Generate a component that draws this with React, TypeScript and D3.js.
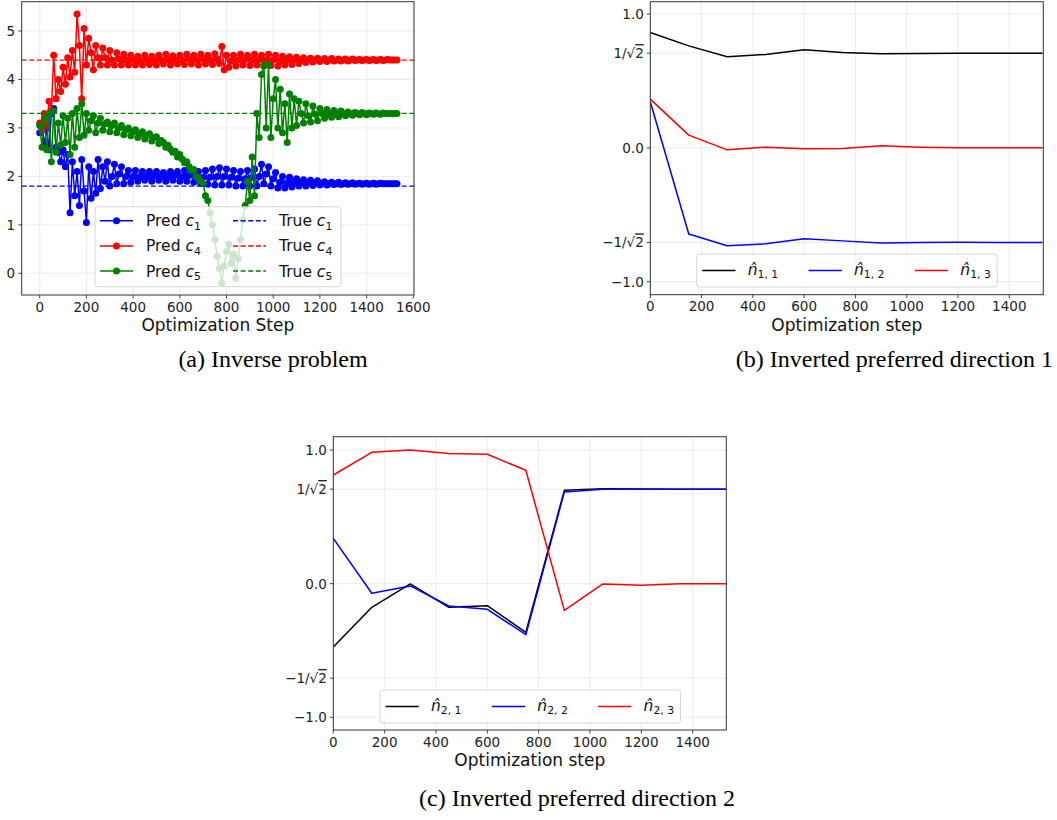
import { useEffect, useRef } from 'react';
import * as d3 from 'd3';

const predSteps = d3.range(0, 1531, 10);
const predC1 = [
  2.9, 3.05, 2.65, 3.0, 2.55, 3.3, 3.4, 2.6, 2.5, 2.3,
  2.55, 2.2, 2.45, 1.25, 2.3, 1.6, 2.1, 1.4, 2.35, 1.7,
  1.05, 2.2, 1.55, 2.1, 1.65, 2.35, 1.75, 2.2, 1.9, 2.3,
  1.8, 2.0, 2.25, 1.85, 2.05, 2.2, 1.85, 2.0, 2.12, 1.88,
  2.0, 2.12, 1.9, 2.0, 2.1, 1.92, 2.0, 2.1, 1.9, 2.02,
  2.1, 1.92, 2.0, 2.08, 1.9, 2.0, 2.1, 1.92, 2.02, 2.1,
  1.9, 2.0, 2.12, 1.9, 2.02, 2.1, 1.88, 2.0, 2.1, 1.86,
  1.98, 2.12, 1.84, 1.98, 2.15, 1.82, 2.0, 2.18, 1.82, 2.0,
  2.15, 1.82, 1.98, 2.12, 1.8, 1.96, 2.1, 1.8, 1.95, 2.12,
  1.8, 1.98, 2.15, 1.8, 2.0, 2.25, 1.85, 2.05, 2.2, 1.8,
  1.95, 2.08, 1.76, 1.88, 2.0, 1.76, 1.87, 1.98, 1.78, 1.88,
  1.95, 1.8, 1.87, 1.93, 1.8, 1.86, 1.92, 1.81, 1.86, 1.91,
  1.82, 1.86, 1.89, 1.82, 1.85, 1.88, 1.83, 1.85, 1.88, 1.83,
  1.85, 1.87, 1.84, 1.85, 1.87, 1.84, 1.85, 1.86, 1.84, 1.85,
  1.86, 1.84, 1.85, 1.86, 1.84, 1.85, 1.86, 1.85, 1.85, 1.85,
  1.85, 1.85, 1.85, 1.85,
];
const predC4 = [
  3.1, 2.95, 3.3, 3.05, 3.55, 3.35, 4.5, 3.6, 4.0, 3.75,
  4.25, 3.9, 4.45, 4.05, 4.6, 4.15, 5.35, 4.7, 3.6, 5.05,
  4.3, 4.85, 4.55, 4.2, 4.7, 4.45, 4.3, 4.65, 4.45, 4.3,
  4.6, 4.4, 4.3, 4.55, 4.42, 4.3, 4.52, 4.4, 4.3, 4.5,
  4.4, 4.3, 4.48, 4.38, 4.3, 4.5, 4.4, 4.31, 4.48, 4.39,
  4.3, 4.5, 4.4, 4.32, 4.52, 4.41, 4.3, 4.49, 4.4, 4.32,
  4.5, 4.4, 4.31, 4.52, 4.42, 4.32, 4.5, 4.41, 4.3, 4.52,
  4.42, 4.32, 4.5, 4.4, 4.31, 4.53, 4.42, 4.33, 4.68, 4.2,
  4.5, 4.25, 4.38, 4.5, 4.28, 4.4, 4.52, 4.3, 4.41, 4.5,
  4.29, 4.4, 4.52, 4.3, 4.41, 4.5, 4.28, 4.4, 4.52, 4.29,
  4.4, 4.5, 4.28, 4.39, 4.48, 4.3, 4.4, 4.47, 4.31, 4.4,
  4.46, 4.33, 4.4, 4.45, 4.35, 4.4, 4.44, 4.36, 4.4, 4.44,
  4.37, 4.4, 4.43, 4.37, 4.4, 4.43, 4.38, 4.4, 4.42, 4.38,
  4.4, 4.42, 4.38, 4.4, 4.42, 4.39, 4.4, 4.41, 4.39, 4.4,
  4.41, 4.39, 4.4, 4.41, 4.39, 4.4, 4.41, 4.39, 4.4, 4.41,
  4.4, 4.4, 4.4, 4.4,
];
const predC5 = [
  3.05, 2.6, 3.2, 2.55, 3.3, 2.3, 3.35, 2.5, 3.1, 2.65,
  3.25, 2.7, 3.2, 2.45, 3.3, 2.6, 3.4, 2.8, 3.5, 2.85,
  3.3, 2.95, 3.15, 3.25, 2.9, 3.1, 3.2, 2.95, 3.08, 3.12,
  2.92, 3.05, 3.1, 2.9, 3.0, 3.05, 2.86, 2.96, 3.0, 2.84,
  2.92, 2.96, 2.8, 2.88, 2.92, 2.77, 2.85, 2.88, 2.73, 2.8,
  2.82, 2.68, 2.74, 2.7, 2.6, 2.64, 2.56, 2.5, 2.52, 2.4,
  2.45, 2.36, 2.28, 2.3, 2.2, 2.12, 2.14, 2.0, 1.95, 1.9,
  1.85, 1.6, 1.5, 1.25, 1.0, 0.7, 0.35, 0.1, -0.2, 0.15,
  0.45, 0.6, 0.2, 0.4, -0.1, 0.3, 0.7, 1.1, 1.4, 1.9,
  1.5, 2.4, 1.6, 3.3, 2.8, 4.1, 4.3, 3.0, 4.3, 2.8,
  3.6, 4.0, 3.0, 3.8, 2.9, 3.5, 2.7, 3.7, 3.0, 3.6,
  3.05, 3.55, 3.3, 3.1, 3.5, 3.25, 3.12, 3.45, 3.28, 3.15,
  3.4, 3.3, 3.2, 3.38, 3.29, 3.22, 3.36, 3.3, 3.23, 3.35,
  3.29, 3.25, 3.33, 3.29, 3.26, 3.32, 3.3, 3.27, 3.32, 3.3,
  3.27, 3.31, 3.3, 3.28, 3.31, 3.29, 3.28, 3.31, 3.3, 3.29,
  3.3, 3.29, 3.3, 3.3,
];
const trueC1 = 1.8;
const trueC4 = 4.4;
const trueC5 = 3.3;

// (b), (c): direction components at the checkpoints
const dirSteps = [0, 150, 300, 450, 600, 750, 900, 1050, 1200, 1350, 1500, 1530];
const n11 = [0.862, 0.762, 0.68, 0.698, 0.733, 0.713, 0.703, 0.705, 0.707, 0.707, 0.707, 0.707];
const n12 = [0.344, -0.643, -0.732, -0.717, -0.68, -0.695, -0.71, -0.708, -0.706, -0.707, -0.707, -0.707];
const n13 = [0.364, 0.095, -0.015, 0.005, -0.007, -0.005, 0.015, 0.005, 0.0, 0.0, 0.0, 0.0];
const n21 = [-0.474, -0.177, -0.002, -0.177, -0.165, -0.364, 0.698, 0.711, 0.708, 0.707, 0.707, 0.707];
const n22 = [0.339, -0.072, -0.017, -0.167, -0.192, -0.382, 0.686, 0.706, 0.707, 0.707, 0.707, 0.707];
const n23 = [0.813, 0.983, 1.0, 0.973, 0.968, 0.848, -0.2, -0.002, -0.012, 0.0, 0.0, 0.0];

const xTicksA = [0, 200, 400, 600, 800, 1000, 1200, 1400, 1600];
const yTicksA = [0, 1, 2, 3, 4, 5];
const xTicksN = [0, 200, 400, 600, 800, 1000, 1200, 1400];
const yTicksN = [-1, -Math.SQRT1_2, 0, Math.SQRT1_2, 1];
const yLabelsN = ['\u22121.0', '\u22121/\u221a2', '0.0', '1/\u221a2', '1.0'];

const FONT = "'DejaVu Sans', sans-serif";
const SERIF = "'Liberation Serif', 'Times New Roman', serif";
const MARKER_R = 3.5;

// a label piece: [text, kind] with kind n = normal, i = italic, s = subscript
type Piece = [string, string];

const addMath = (sel: any, pieces: Piece[], fs: number) => {
  pieces.forEach(([t, k]) => {
    const ts = sel.append('tspan').text(t);
    if (k === 'i') ts.style('font-style', 'italic');
    if (k === 's') ts.attr('font-size', fs * 0.7).attr('dy', fs * 0.22);
  });
};

const addSqrtLabel = (sel: any, label: string) => {
  const i = label.indexOf('\u221a');
  if (i < 0) {
    sel.text(label);
    return;
  }
  sel.append('tspan').text(label.slice(0, i + 1));
  sel.append('tspan').style('text-decoration', 'overline').text(label.slice(i + 1));
};

const drawAxes = (svg: any, fr: any, x: any, y: any, xTicks: number[], yTicks: number[], yLabels: string[], xLabel: string, labelY: number) => {
  const g = svg.append('g');
  xTicks.forEach((t) => {
    g.append('line').attr('x1', x(t)).attr('x2', x(t)).attr('y1', fr.b).attr('y2', fr.b + 3.5)
      .attr('stroke', '#333').attr('stroke-width', 0.9);
    g.append('text').attr('x', x(t)).attr('y', fr.b + 16.5).attr('text-anchor', 'middle')
      .attr('font-family', FONT).attr('font-size', 13.5).attr('fill', '#222').text(t);
  });
  yTicks.forEach((t, i) => {
    g.append('line').attr('x1', fr.l - 3.5).attr('x2', fr.l).attr('y1', y(t)).attr('y2', y(t))
      .attr('stroke', '#333').attr('stroke-width', 0.9);
    const tx = g.append('text').attr('x', fr.l - 6.5).attr('y', y(t)).attr('dy', '0.36em')
      .attr('text-anchor', 'end').attr('font-family', FONT).attr('font-size', 13.5).attr('fill', '#222');
    addSqrtLabel(tx, yLabels[i]);
  });
  g.append('rect').attr('x', fr.l).attr('y', fr.t).attr('width', fr.r - fr.l).attr('height', fr.b - fr.t)
    .attr('fill', 'none').attr('stroke', '#333').attr('stroke-width', 1);
  g.append('text').attr('x', (fr.l + fr.r) / 2).attr('y', labelY).attr('text-anchor', 'middle')
    .attr('font-family', FONT).attr('font-size', 17).attr('fill', '#111').text(xLabel);
};

const drawGrid = (svg: any, fr: any, x: any, y: any, xTicks: number[], yTicks: number[]) => {
  const g = svg.append('g').attr('stroke', '#ebebeb').attr('stroke-width', 1);
  xTicks.forEach((t) => g.append('line').attr('x1', x(t)).attr('x2', x(t)).attr('y1', fr.t).attr('y2', fr.b));
  yTicks.forEach((t) => g.append('line').attr('x1', fr.l).attr('x2', fr.r).attr('y1', y(t)).attr('y2', y(t)));
};

const legendBox = (svg: any, x0: number, y0: number, w: number, h: number) =>
  svg.append('rect').attr('x', x0).attr('y', y0).attr('width', w).attr('height', h).attr('rx', 3)
    .attr('fill', '#fff').attr('fill-opacity', 0.8).attr('stroke', '#ccc').attr('stroke-opacity', 0.8);

const drawDirPanel = (svg: any, id: string, fr: any, x: any, y: any, series: number[][], names: Piece[][], labelY: number, legXY: [number, number]) => {
  const colors = ['#000000', '#0000ff', '#ff0000'];
  drawGrid(svg, fr, x, y, xTicksN, yTicksN);
  svg.append('clipPath').attr('id', id).append('rect')
    .attr('x', fr.l).attr('y', fr.t).attr('width', fr.r - fr.l).attr('height', fr.b - fr.t);
  const line = d3.line<number>().x((_, i) => x(dirSteps[i])).y((d) => y(d));
  const dg = svg.append('g').attr('clip-path', `url(#${id})`);
  series.forEach((s, k) => {
    dg.append('path').datum(s).attr('d', line).attr('fill', 'none')
      .attr('stroke', colors[k]).attr('stroke-width', 1.5).attr('stroke-linejoin', 'round');
  });
  const [lx, ly] = legXY;
  legendBox(svg, lx, ly, 300.5, 33);
  names.forEach((nm, k) => {
    const hx = lx + 5.5 + k * 106.3;
    svg.append('line').attr('x1', hx).attr('x2', hx + 33.3).attr('y1', ly + 16.5).attr('y2', ly + 16.5)
      .attr('stroke', colors[k]).attr('stroke-width', 1.5);
    const t = svg.append('text').attr('x', hx + 45.5).attr('y', ly + 21).attr('font-family', FONT)
      .attr('font-size', 15.5).attr('fill', '#111');
    addMath(t, nm, 15.5);
  });
  drawAxes(svg, fr, x, y, xTicksN, yTicksN, yLabelsN, 'Optimization step', labelY);
};

export default function App() {
  const ref = useRef<SVGSVGElement>(null);

  useEffect(() => {
    const svg = d3.select(ref.current);
    svg.selectAll('*').remove();

    // ---------- (a) ----------
    const frA = { l: 21.7, r: 414, t: 1.7, b: 295 };
    const xA = d3.scaleLinear().domain([0, 1600]).range([39.7, 413.3]);
    const yA = d3.scaleLinear().domain([0, 5]).range([273.3, 31]);
    drawGrid(svg, frA, xA, yA, xTicksA, yTicksA);
    svg.append('clipPath').attr('id', 'clipA').append('rect')
      .attr('x', frA.l).attr('y', frA.t).attr('width', frA.r - frA.l).attr('height', frA.b - frA.t);
    const ga = svg.append('g').attr('clip-path', 'url(#clipA)');
    const lineA = d3.line<number>().x((_, i) => xA(predSteps[i])).y((d) => yA(d));
    const predSeries: [number[], string][] = [
      [predC1, '#0000ff'],
      [predC4, '#ff0000'],
      [predC5, '#008000'],
    ];
    predSeries.forEach(([vals, c]) => {
      ga.append('path').datum(vals).attr('d', lineA).attr('fill', 'none').attr('stroke', c).attr('stroke-width', 1.5);
      ga.selectAll(null).data(vals).enter().append('circle')
        .attr('cx', (_, i) => xA(predSteps[i])).attr('cy', (d) => yA(d)).attr('r', MARKER_R).attr('fill', c);
    });
    const trueSeries: [number, string][] = [
      [trueC1, '#0000ff'],
      [trueC4, '#ff0000'],
      [trueC5, '#008000'],
    ];
    trueSeries.forEach(([v, c]) => {
      ga.append('line').attr('x1', frA.l).attr('x2', frA.r).attr('y1', yA(v)).attr('y2', yA(v))
        .attr('stroke', c).attr('stroke-width', 1.3).attr('stroke-dasharray', '5,2.6');
    });
    // legend (a)
    legendBox(svg, 95, 206.7, 246, 80);
    const legA: [string, string, boolean, string][] = [
      ['Pred ', '1', true, '#0000ff'],
      ['Pred ', '4', true, '#ff0000'],
      ['Pred ', '5', true, '#008000'],
      ['True ', '1', false, '#0000ff'],
      ['True ', '4', false, '#ff0000'],
      ['True ', '5', false, '#008000'],
    ];
    legA.forEach(([w, sub, pred, c], k) => {
      const col = Math.floor(k / 3);
      const row = k % 3;
      const hx = 100 + col * 133;
      const hy = 220.7 + row * 25.2;
      svg.append('line').attr('x1', hx).attr('x2', hx + 33).attr('y1', hy).attr('y2', hy)
        .attr('stroke', c).attr('stroke-width', 1.5).attr('stroke-dasharray', pred ? null : '5,2.6');
      if (pred) svg.append('circle').attr('cx', hx + 16.5).attr('cy', hy).attr('r', MARKER_R).attr('fill', c);
      const t = svg.append('text').attr('x', hx + 46).attr('y', hy + 5.5).attr('font-family', FONT)
        .attr('font-size', 15.5).attr('fill', '#111');
      addMath(t, [[w, 'n'], ['c', 'i'], [sub, 's']], 15.5);
    });
    drawAxes(svg, frA, xA, yA, xTicksA, yTicksA, yTicksA.map(String), 'Optimization Step', 330.5);

    // ---------- (b) ----------
    const frB = { l: 650.3, r: 1043.3, t: 1.7, b: 294.7 };
    const xB = d3.scaleLinear().domain([0, 1400]).range([650.3, 1009.3]);
    const yB = d3.scaleLinear().domain([-1, 1]).range([281.7, 14]);
    drawDirPanel(svg, 'clipB', frB, xB, yB, [n11, n12, n13], [
      [['n\u0302', 'i'], ['1, 1', 's']],
      [['n\u0302', 'i'], ['1, 2', 's']],
      [['n\u0302', 'i'], ['1, 3', 's']],
    ], 330.5, [696.7, 254]);

    // ---------- (c) ----------
    const frC = { l: 333.3, r: 726.3, t: 436.7, b: 730 };
    const xC = d3.scaleLinear().domain([0, 1400]).range([333.3, 692.7]);
    const yC = d3.scaleLinear().domain([-1, 1]).range([717.3, 450]);
    drawDirPanel(svg, 'clipC', frC, xC, yC, [n21, n22, n23], [
      [['n\u0302', 'i'], ['2, 1', 's']],
      [['n\u0302', 'i'], ['2, 2', 's']],
      [['n\u0302', 'i'], ['2, 3', 's']],
    ], 765.5, [380, 690]);

    // ---------- captions ----------
    const caps: [string, number, number, string][] = [
      ['(a) Inverse problem', 273, 367, 'middle'],
      ['(b) Inverted preferred direction 1', 1053, 367, 'end'],
      ['(c) Inverted preferred direction 2', 577, 806, 'middle'],
    ];
    caps.forEach(([t, cx, cy, anchor]) => {
      svg.append('text').attr('x', cx).attr('y', cy).attr('text-anchor', anchor)
        .attr('font-family', SERIF).attr('font-size', 24).attr('fill', '#000').text(t);
    });
  }, []);

  return (
    <svg
      ref={ref}
      width={1057}
      height={820}
      style={{ position: 'absolute', left: 0, top: 0, background: '#fff' }}
    />
  );
}
